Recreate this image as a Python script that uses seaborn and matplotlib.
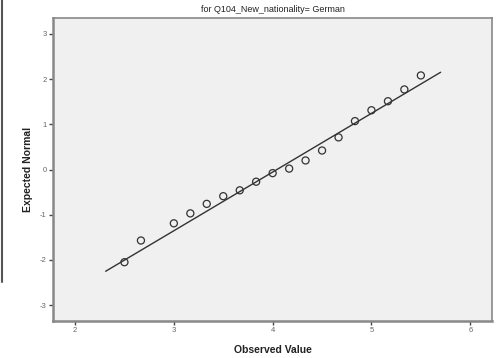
import matplotlib
matplotlib.use("Agg")
import matplotlib.pyplot as plt
import seaborn as sns
import pandas as pd
from matplotlib.lines import Line2D

# Data
observed = [2.50, 2.667, 3.00, 3.167, 3.333, 3.50, 3.667, 3.833, 4.00,
            4.167, 4.333, 4.50, 4.667, 4.833, 5.00, 5.167, 5.333, 5.50]
expected = [-2.05, -1.57, -1.19, -0.97, -0.76, -0.59, -0.46, -0.27, -0.08,
            0.02, 0.20, 0.42, 0.71, 1.07, 1.31, 1.51, 1.77, 2.08]
line_x = [2.31, 5.70]
line_y = [-2.25, 2.15]
x_ticks = [2, 3, 4, 5, 6]
y_ticks = [-3, -2, -1, 0, 1, 2, 3]
title = "for Q104_New_nationality= German"

sns.set_style("white")
plt.rcParams['font.family'] = ['Liberation Sans', 'DejaVu Sans']

fig = plt.figure(figsize=(4.96, 3.58), dpi=100)
ax = fig.add_axes([53/496, 37/358, (492-53)/496, (321-18)/358])
ax.set_facecolor("#f0f0f0")

df = pd.DataFrame({"obs": observed, "exp": expected})
ldf = pd.DataFrame({"x": line_x, "y": line_y})
sns.lineplot(data=ldf, x="x", y="y", ax=ax, color="#333333", linewidth=1.0)
sns.scatterplot(data=df, x="obs", y="exp", ax=ax, marker="o", s=26,
                facecolor="none", edgecolor="#333333", linewidth=0.9, zorder=3)

ax.set_xlim(1.777, 6.22)
ax.set_ylim(-3.35, 3.35)
ax.set_xticks(x_ticks)
ax.set_yticks(y_ticks)
ax.set_xticklabels([str(t) for t in x_ticks])
ax.set_yticklabels([str(t) for t in y_ticks])
ax.tick_params(axis="both", labelsize=5.5, labelcolor="#666666", color="#444444",
               length=3, width=1.0, pad=1.5, direction="out", left=True, bottom=True)

for side in ["left", "bottom"]:
    ax.spines[side].set_color("#888888")
    ax.spines[side].set_linewidth(1.8)
for side in ["top", "right"]:
    ax.spines[side].set_color("#888888")
    ax.spines[side].set_linewidth(1.2)

ax.set_xlabel("Observed Value", fontsize=7.5, fontweight="semibold", color="#222222", labelpad=8)
ax.set_ylabel("Expected Normal", fontsize=7.5, fontweight="bold", color="#222222", labelpad=5)
ax.set_title(title, fontsize=6.5, color="#222222", pad=4)

fig.add_artist(Line2D([1.5/496, 1.5/496], [1.0, (358-282)/358],
                      transform=fig.transFigure, color="#555555", linewidth=1.5))

fig.savefig("out.png", dpi=100)
